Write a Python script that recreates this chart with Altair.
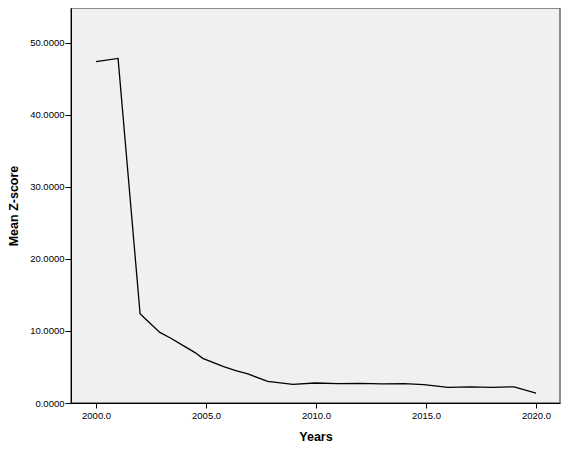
import altair as alt
import pandas as pd

years = [2000.0, 2001.0, 2002.0, 2002.2, 2002.9, 2003.4, 2004.0, 2004.5, 2004.85,
         2005.8, 2006.35, 2006.9, 2007.8, 2008.95, 2009.95, 2011.0, 2012.0,
         2013.0, 2014.0, 2014.9, 2016.0, 2017.0, 2018.0, 2019.0, 2020.0]
zscores = [47.4, 47.85, 12.4, 11.8, 9.8, 9.0, 7.9, 7.0, 6.2,
           5.05, 4.5, 4.05, 3.0, 2.6, 2.78, 2.7, 2.72,
           2.65, 2.7, 2.55, 2.18, 2.25, 2.18, 2.25, 1.38]

x_ticks = [2000, 2005, 2010, 2015, 2020]
y_ticks = [0, 10, 20, 30, 40, 50]

df = pd.DataFrame({"Years": years, "Mean Z-score": zscores})

chart = alt.Chart(df).mark_line(color="#000000", strokeWidth=1.3).encode(
    x=alt.X("Years:Q",
            scale=alt.Scale(domain=[1998.86, 2021.09], nice=False, zero=False),
            axis=alt.Axis(values=x_ticks, format=".1f", title="Years",
                          grid=False, tickSize=5, tickColor="#000", domainColor="#000",
                          labelFont="Liberation Sans", labelFontSize=9.5, labelColor="#000",
                          labelPadding=2, titleFont="Liberation Sans", titleFontSize=12.5,
                          titleFontWeight="bold", titleColor="#000", titlePadding=11)),
    y=alt.Y("Mean Z-score:Q",
            scale=alt.Scale(domain=[0, 54.86], nice=False, zero=True),
            axis=alt.Axis(values=y_ticks, format=".4f", title="Mean Z-score",
                          grid=False, tickSize=6, tickColor="#000", domainColor="#000",
                          labelFont="Liberation Sans", labelFontSize=9.5, labelColor="#000",
                          labelPadding=1, titleFont="Liberation Sans", titleFontSize=12.5,
                          titleFontWeight="bold", titleColor="#000", titlePadding=9)),
).properties(
    width=489, height=395,
    background="white",
    autosize=alt.AutoSizeParams(type="none"),
    padding={"left": 63, "top": 0, "right": 10, "bottom": 40},
).configure_view(
    fill="#f0f0f0", stroke="#6a6a6a", strokeWidth=1.5
)

chart.save("out.html", embed_options={"renderer": "svg", "actions": False})
